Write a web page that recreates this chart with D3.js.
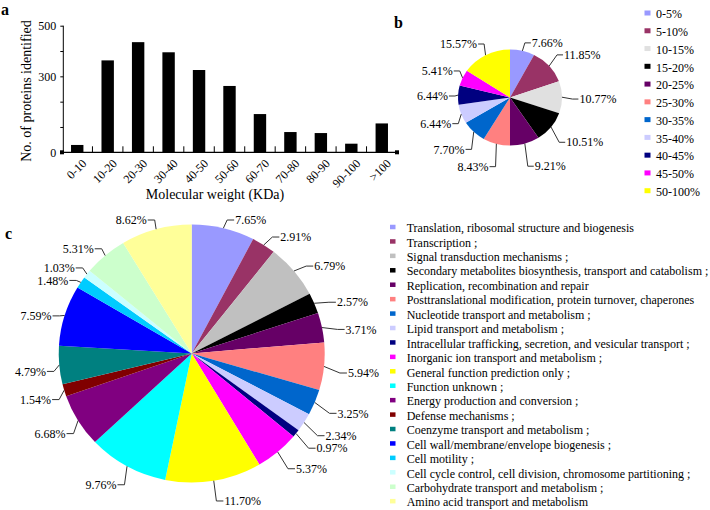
<!DOCTYPE html>
<html>
<head>
<meta charset="utf-8">
<script src="https://cdn.jsdelivr.net/npm/d3@7/dist/d3.min.js"></script>
<style>
  body { margin: 0; background: #fff; }
  svg { font-family: "Liberation Serif", "Times New Roman", serif; }
</style>
</head>
<body>
<div id="chart"></div>
<script>
// panel a: molecular weight distribution
var weightBins = ["0-10", "10-20", "20-30", "30-40", "40-50", "50-60", "60-70", "70-80", "80-90", "90-100", ">100"];
var proteinCounts = [29, 363, 435, 395, 325, 262, 151, 80, 76, 34, 114];
var countTicks = [0, 100, 200, 300, 400, 500];
var countTickLabels = ["0", "", "", "300", "", "500"];

// panel b: sequence coverage
var coverageBins = ["0-5%", "5-10%", "10-15%", "15-20%", "20-25%", "25-30%", "30-35%", "35-40%", "40-45%", "45-50%", "50-100%"];
var coverageShares = [7.66, 11.85, 10.77, 10.51, 9.21, 8.43, 7.70, 6.44, 6.44, 5.41, 15.57];
var coverageColors = ["#9999ff", "#993366", "#e0e0e0", "#000000", "#660066", "#ff8080", "#0066cc", "#ccccff", "#000080", "#ff00ff", "#ffff00"];

// panel c: COG classes
var cogClasses = [
    "Translation, ribosomal structure and biogenesis",
    "Transcription ;",
    "Signal transduction mechanisms ;",
    "Secondary metabolites biosynthesis, transport and catabolism ;",
    "Replication, recombination and repair",
    "Posttranslational modification, protein turnover, chaperones",
    "Nucleotide transport and metabolism ;",
    "Lipid transport and metabolism ;",
    "Intracellular trafficking, secretion, and vesicular transport ;",
    "Inorganic ion transport and metabolism ;",
    "General function prediction only ;",
    "Function unknown ;",
    "Energy production and conversion ;",
    "Defense mechanisms ;",
    "Coenzyme transport and metabolism ;",
    "Cell wall/membrane/envelope biogenesis ;",
    "Cell motility ;",
    "Cell cycle control, cell division, chromosome partitioning ;",
    "Carbohydrate transport and metabolism ;",
    "Amino acid transport and metabolism"
];
var cogShares = [7.65, 2.91, 6.79, 2.57, 3.71, 5.94, 3.25, 2.34, 0.97, 5.37, 11.70, 9.76, 6.68, 1.54, 4.79, 7.59, 1.48, 1.03, 5.31, 8.62];
var cogColors = ["#9999ff", "#993366", "#c0c0c0", "#000000", "#660066", "#ff8080", "#0066cc", "#ccccff", "#000080", "#ff00ff",
                 "#ffff00", "#00ffff", "#800080", "#800000", "#008080", "#0000ff", "#00ccff", "#ccffff", "#ccffcc", "#ffff99"];

var width = 710, height = 510;

var svg = d3.select("#chart").append("svg")
    .attr("width", width)
    .attr("height", height);

// ---------- panel a ----------
var xb = d3.scaleBand().domain(weightBins).range([62, 397]);
var y = d3.scaleLinear().domain([0, 500]).range([152.3, 25.7]);

var ga = svg.append("g");

ga.selectAll("rect.bar")
    .data(weightBins)
    .join("rect")
    .attr("class", "bar")
    .attr("x", (d) => xb(d) + xb.bandwidth() / 2 - 6.2)
    .attr("width", 12.4)
    .attr("y", (d, i) => y(proteinCounts[i]))
    .attr("height", (d, i) => y(0) - y(proteinCounts[i]))
    .attr("fill", "#000");

var yAxis = ga.append("g")
    .attr("transform", "translate(63.3,0)")
    .call(d3.axisLeft(y).tickValues(countTicks).tickSize(3).tickPadding(4)
        .tickFormat((d, i) => countTickLabels[i]));
yAxis.select(".domain").attr("d", "M0," + y(0) + "V" + y(500));
yAxis.selectAll("text").style("font-size", "12px").style("font-family", "Liberation Serif");

// x axis line with small inward ticks on band boundaries
ga.append("line")
    .attr("x1", 62).attr("x2", 397)
    .attr("y1", y(0)).attr("y2", y(0))
    .attr("stroke", "#000").attr("stroke-width", 1.2);
ga.selectAll("line.xt")
    .data(weightBins.slice(1))
    .join("line")
    .attr("class", "xt")
    .attr("x1", (d) => xb(d)).attr("x2", (d) => xb(d))
    .attr("y1", y(0)).attr("y2", y(0) - 6)
    .attr("stroke", "#000");
ga.selectAll("rect.cap")
    .data([62, 397])
    .join("rect")
    .attr("class", "cap")
    .attr("x", (d) => d - 2).attr("y", y(0) - 2)
    .attr("width", 4).attr("height", 4)
    .attr("fill", "#000");

ga.selectAll("text.xl")
    .data(weightBins)
    .join("text")
    .attr("class", "xl")
    .attr("transform", (d) => "translate(" + (xb(d) + xb.bandwidth() / 2 + 4) + "," + (y(0) + 6) + ") rotate(-45)")
    .attr("text-anchor", "end")
    .attr("dy", "0.7em")
    .style("font-size", "12px")
    .text((d) => d);

ga.append("text")
    .attr("x", 215).attr("y", 199)
    .attr("text-anchor", "middle")
    .style("font-size", "14px")
    .text("Molecular weight (KDa)");

ga.append("text")
    .attr("transform", "translate(31,91) rotate(-90)")
    .attr("text-anchor", "middle")
    .style("font-size", "14px")
    .text("No. of proteins identified");

// panel letters
svg.selectAll("text.panel")
    .data([["a", 1, 15], ["b", 394, 28], ["c", 5, 239]])
    .join("text")
    .attr("class", "panel")
    .attr("x", (d) => d[1]).attr("y", (d) => d[2])
    .style("font-size", "16px")
    .style("font-weight", "bold")
    .text((d) => d[0]);

// ---------- pies ----------
function drawPie(values, colors, o) {
    var g = svg.append("g");
    var sx = o.rx / o.ry;
    var arcs = d3.pie().sort(null).value((d) => d)(values);
    var arc = d3.arc().innerRadius(0).outerRadius(o.ry);

    g.append("g")
        .attr("transform", "translate(" + o.cx + "," + o.cy + ") scale(" + sx + ",1)")
        .selectAll("path")
        .data(arcs)
        .join("path")
        .attr("d", arc)
        .attr("fill", (d, i) => colors[i]);

    // place labels, then push apart ones that crowd on the same side
    var labels = arcs.map(function (d) {
        var a = (d.startAngle + d.endAngle) / 2;
        var s = Math.sin(a), c = Math.cos(a);
        var right = s >= 0;
        var kx = right ? o.kxR : o.kxL;
        return {
            v: d.data, right: right,
            e0: [o.cx + o.rx * s, o.cy - o.ry * c],
            ex: o.cx + kx * o.rx * s,
            ey: Math.max(o.cy - o.ky * o.ry * c + o.shift, o.minY)
        };
    });
    [true, false].forEach(function (side) {
        var list = labels.filter((l) => l.right === side).sort((p, q) => p.ey - q.ey);
        for (var k = 1; k < list.length; k++) {
            var gap = list[k].ey - list[k - 1].ey;
            if (gap < o.minGap) {
                list[k - 1].ey -= (o.minGap - gap) / 2;
                list[k].ey += (o.minGap - gap) / 2;
            }
        }
    });

    labels.forEach(function (l) {
        var tx = l.ex + (l.right ? o.run : -o.run);
        g.append("path")
            .attr("d", "M" + l.e0 + "L" + l.ex + "," + l.ey + "L" + tx + "," + l.ey)
            .attr("fill", "none")
            .attr("stroke", "#333")
            .attr("stroke-width", 1);
        g.append("text")
            .attr("x", tx + (l.right ? 1 : -1))
            .attr("y", l.ey)
            .attr("dy", "0.35em")
            .attr("text-anchor", l.right ? "start" : "end")
            .style("font-size", "12px")
            .text(l.v.toFixed(2) + "%");
    });
}

drawPie(coverageShares, coverageColors,
    {cx: 510, cy: 97.5, rx: 52, ry: 48, kxR: 1.2, kxL: 1.06, ky: 1.45, run: 6, shift: 2, minY: 44, minGap: 12});
drawPie(cogShares, cogColors,
    {cx: 191.7, cy: 353.5, rx: 133, ry: 129, kxR: 1.12, kxL: 1.04, ky: 1.12, run: 7, shift: 5, minY: 220, minGap: 12.5});

// ---------- legends ----------
function drawLegend(names, colors, o) {
    var g = svg.append("g");
    var rows = g.selectAll("g")
        .data(names)
        .join("g")
        .attr("transform", (d, i) => "translate(" + o.x + "," + (o.y + i * o.step) + ")");
    rows.append("rect")
        .attr("x", 0).attr("y", -o.box / 2 - 1)
        .attr("width", o.box + 1).attr("height", o.box)
        .attr("fill", (d, i) => colors[i]);
    rows.append("text")
        .attr("x", o.tx).attr("dy", "0.35em")
        .style("font-size", o.font)
        .text((d) => d);
}

drawLegend(coverageBins, coverageColors, {x: 644.5, y: 14, step: 17.77, box: 5, tx: 11.5, font: "12px"});
drawLegend(cogClasses, cogColors, {x: 390, y: 228, step: 14.43, box: 4.5, tx: 16.7, font: "12px"});
</script>
</body>
</html>
